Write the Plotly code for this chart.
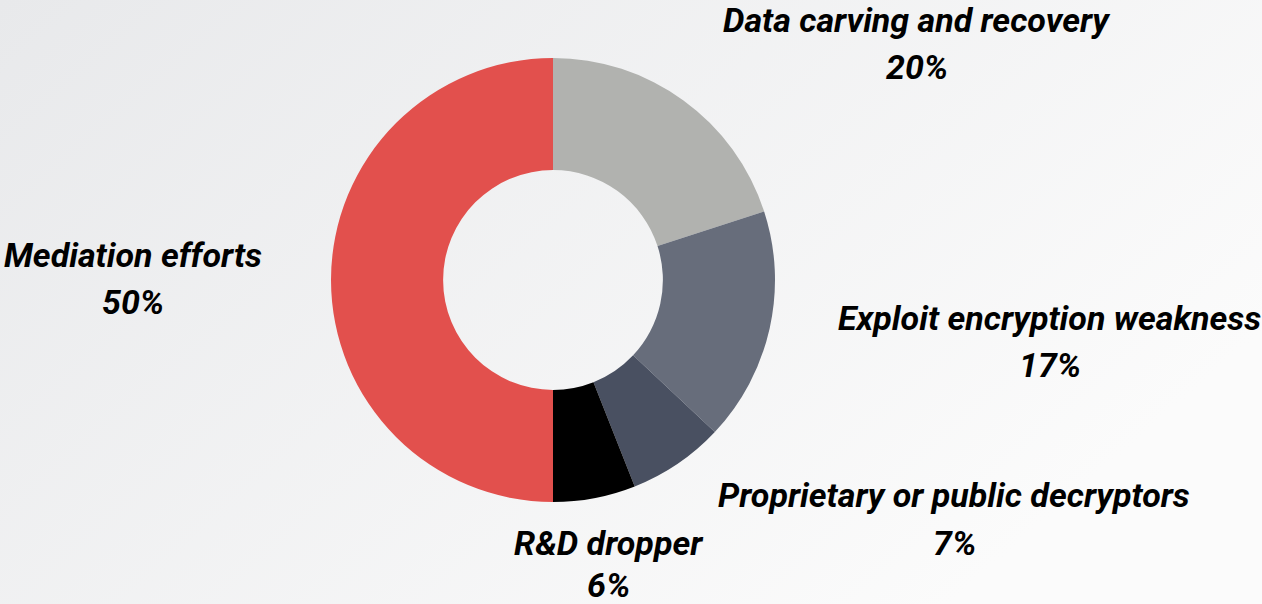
import base64
import plotly.graph_objects as go

categories = ["Data carving and recovery", "Exploit encryption weakness",
              "Proprietary or public decryptors", "R&D dropper", "Mediation efforts"]
values = [20, 17, 7, 6, 50]
colors = ["#b1b2af", "#676d7b", "#495061", "#000000", "#e2504d"]

# label anchor positions (paper coords) for name line and percent line
label_x = [0.727, 0.832, 0.756, 0.482, 0.105]
label_y_name = [0.967, 0.473, 0.180, 0.101, 0.578]
label_y_pct = [0.889, 0.395, 0.101, 0.032, 0.500]

W, H = 1262, 604

svg = f'''<svg xmlns="http://www.w3.org/2000/svg" width="{W}" height="{H}" viewBox="0 0 {W} {H}" preserveAspectRatio="none">
<defs><linearGradient id="g" x1="0" y1="0" x2="1" y2="0.55">
<stop offset="0" stop-color="#e8e9eb"/><stop offset="1" stop-color="#fbfbfb"/>
</linearGradient></defs>
<rect width="{W}" height="{H}" fill="url(#g)"/></svg>'''
src = "data:image/svg+xml;base64," + base64.b64encode(svg.encode()).decode()

fig = go.Figure(go.Pie(
    labels=categories,
    values=values,
    marker=dict(colors=colors, line=dict(width=0)),
    hole=0.495,
    sort=False,
    direction="clockwise",
    rotation=0,
    textinfo="none",
    showlegend=False,
    domain=dict(x=[331 / W, 775 / W], y=[(H - 502) / H, (H - 58) / H]),
))

font = dict(family="Roboto", size=34, color="#000000")
for name, v, x, yn, yp in zip(categories, values, label_x, label_y_name, label_y_pct):
    fig.add_annotation(x=x, y=yn, xref="paper", yref="paper", showarrow=False,
                       text=f"<b><i>{name}</i></b>", font=font, xanchor="center", yanchor="middle")
    fig.add_annotation(x=x, y=yp, xref="paper", yref="paper", showarrow=False,
                       text=f"<b><i>{v}%</i></b>", font=font, xanchor="center", yanchor="middle")

fig.update_layout(
    width=W, height=H,
    margin=dict(l=0, r=0, t=0, b=0),
    paper_bgcolor="#f1f2f3",
    plot_bgcolor="rgba(0,0,0,0)",
    images=[dict(source=src, xref="paper", yref="paper", x=0, y=1, sizex=1, sizey=1,
                 xanchor="left", yanchor="top", sizing="stretch", layer="below")],
)

fig.write_html("out.html")
